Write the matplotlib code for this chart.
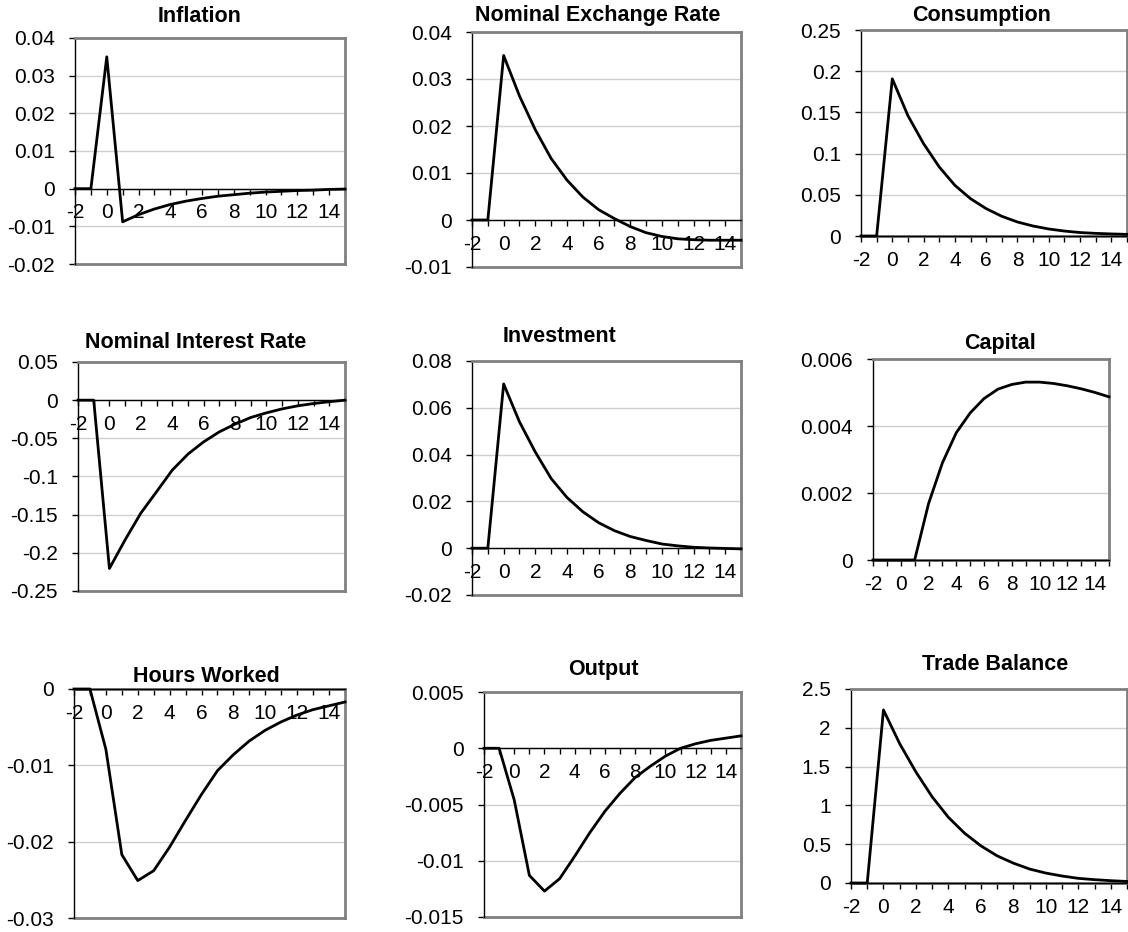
import matplotlib
matplotlib.use("Agg")
import matplotlib.pyplot as plt
from matplotlib.ticker import MultipleLocator, FuncFormatter

# quarters after the shock
periods = list(range(-2, 16))

inflation = [0, 0, 0.0350, -0.0088, -0.0069, -0.0054, -0.0042, -0.0033, -0.0026,
             -0.0020, -0.0016, -0.0012, -0.0009, -0.0007, -0.0005, -0.0004, -0.0002, -0.0001]
exchange_rate = [0, 0, 0.0350, 0.0264, 0.0192, 0.0131, 0.0085, 0.0049, 0.0022, 0.0003,
                 -0.0014, -0.0027, -0.0035, -0.0040, -0.0042, -0.0043, -0.0043, -0.0043]
consumption = [0, 0, 0.1907, 0.1460, 0.1120, 0.0838, 0.0615, 0.0453, 0.0332, 0.0239,
               0.0170, 0.0121, 0.0085, 0.0060, 0.0042, 0.0032, 0.0025, 0.0020]
interest_rate = [0, 0, -0.2205, -0.1830, -0.1480, -0.1200, -0.0917, -0.0707, -0.0546,
                 -0.0415, -0.0314, -0.0227, -0.0166, -0.0114, -0.0074, -0.0044, -0.0020, 0.0000]
investment = [0, 0, 0.0702, 0.0540, 0.0411, 0.0298, 0.0217, 0.0156, 0.0109, 0.0075,
              0.0050, 0.0033, 0.0018, 0.0010, 0.0004, 0.0001, -0.0001, -0.0003]
capital = [0, 0, 0, 0, 0.00168, 0.00290, 0.00380, 0.00439, 0.00482, 0.00510,
           0.00524, 0.00531, 0.00531, 0.00527, 0.00520, 0.00511, 0.00500, 0.00487]
hours = [0, 0, -0.0079, -0.0217, -0.0251, -0.0238, -0.0207, -0.0172, -0.0138, -0.0107,
         -0.0086, -0.0068, -0.0054, -0.0043, -0.0034, -0.0027, -0.0022, -0.0017]
output = [0, 0, -0.0046, -0.0113, -0.0127, -0.0116, -0.0096, -0.0075, -0.0056, -0.0040,
          -0.0026, -0.0016, -0.0007, 0.0000, 0.0004, 0.0007, 0.0009, 0.0011]
trade_balance = [0, 0, 2.23, 1.795, 1.43, 1.11, 0.846, 0.641, 0.479, 0.35,
                 0.256, 0.18, 0.128, 0.09, 0.06, 0.043, 0.03, 0.02]

titles = ["Inflation", "Nominal Exchange Rate", "Consumption",
          "Nominal Interest Rate", "Investment", "Capital",
          "Hours Worked", "Output", "Trade Balance"]
series = [inflation, exchange_rate, consumption,
          interest_rate, investment, capital,
          hours, output, trade_balance]
y_limits = [(-0.02, 0.04), (-0.01, 0.04), (0, 0.25),
            (-0.25, 0.05), (-0.02, 0.08), (0, 0.006),
            (-0.03, 0), (-0.015, 0.005), (0, 2.5)]
y_steps = [0.01, 0.01, 0.05, 0.05, 0.02, 0.002, 0.01, 0.005, 0.5]

# plot areas in pixels: left, top, right, bottom
boxes = [(75, 38, 345, 264), (472, 32, 741, 267), (861, 30, 1127, 236),
         (78, 362, 345, 591), (472, 361, 741, 595), (873, 359, 1109, 560),
         (74, 689, 345, 918), (484, 692, 741, 917), (851, 689, 1127, 883)]
# title centres in pixels
title_spots = [(200, 17), (598, 15), (982, 15),
               (196, 343), (560, 336), (1000, 343),
               (206, 676), (603, 669), (995, 665)]

W, H = 1128, 932
plt.rcParams['font.family'] = ['Liberation Sans', 'DejaVu Sans']
plt.rcParams['axes.unicode_minus'] = False

fig = plt.figure(figsize=(W / 100, H / 100), dpi=100)

for i in range(9):
    l, t, r, b = boxes[i]
    ax = fig.add_axes([l / W, 1 - b / H, (r - l) / W, (b - t) / H])
    ax.plot(periods, series[i], color='black', lw=2, zorder=5, clip_on=False)

    lo, hi = y_limits[i]
    ax.set_xlim(-2, 15)
    ax.set_ylim(lo, hi)
    ax.yaxis.set_major_locator(MultipleLocator(y_steps[i]))
    ax.yaxis.set_major_formatter(FuncFormatter(lambda v, p: '%g' % round(v, 6)))
    ax.xaxis.set_major_locator(MultipleLocator(2))
    ax.xaxis.set_minor_locator(MultipleLocator(1))
    ax.grid(axis='y', color='#d0d0d0', lw=1)
    ax.set_axisbelow(True)

    # excel style frame: gray box, black axes crossing at zero
    for side in ['top', 'right']:
        ax.spines[side].set_color('#808080')
        ax.spines[side].set_linewidth(2)
    ax.axhline(lo, color='#808080', lw=2, zorder=2, clip_on=False)
    ax.spines['left'].set_color('black')
    ax.spines['left'].set_linewidth(1)
    ax.spines['bottom'].set_position(('data', 0))
    ax.spines['bottom'].set_color('black')
    ax.spines['bottom'].set_linewidth(1)
    ax.spines['bottom'].set_zorder(4)

    ax.tick_params(axis='both', which='both', direction='out', length=4.5,
                   width=1, color='black', labelsize=15)
    ax.tick_params(axis='x', pad=6)
    ax.tick_params(axis='y', pad=10)

    fig.text(title_spots[i][0] / W, 1 - title_spots[i][1] / H, titles[i],
             ha='center', va='center', fontsize=15.5, fontweight='bold')

fig.savefig("out.png", dpi=100)
